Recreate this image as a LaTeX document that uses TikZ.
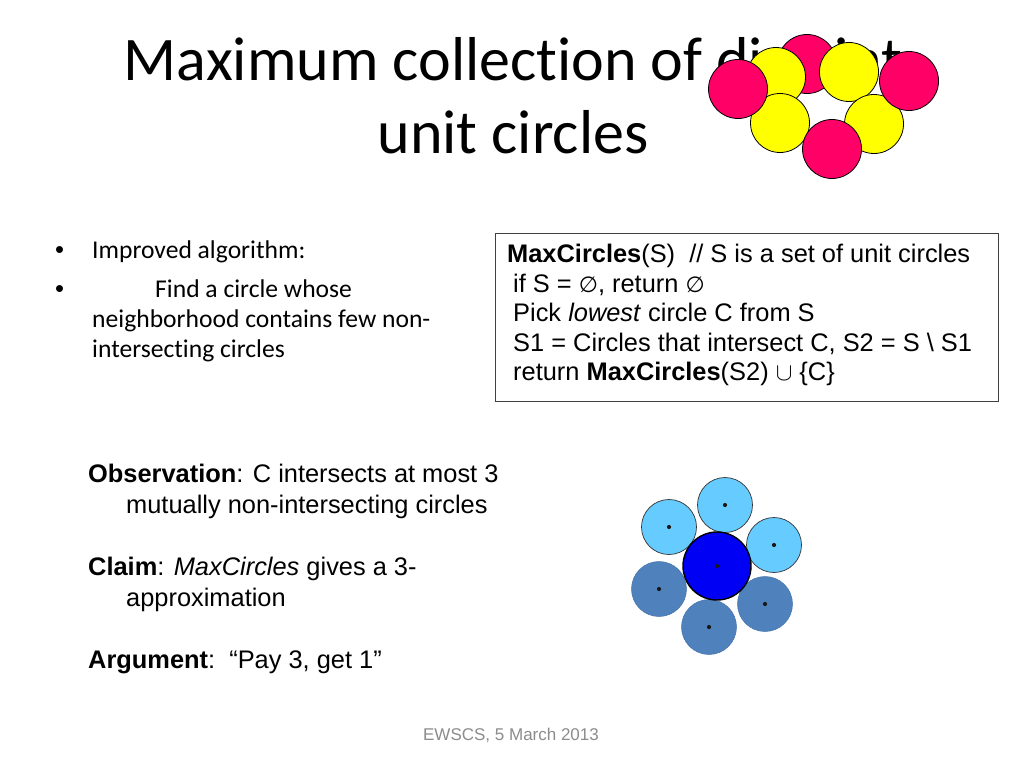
\documentclass[tikz,border=0pt]{standalone}
\usepackage{fontspec}
\setmainfont{Carlito}[Ligatures=NoCommon]
\newfontfamily\arial{Liberation Sans}
\newfontfamily\dejavu{DejaVu Sans}
\definecolor{pinkc}{RGB}{255,0,102}
\definecolor{yellowc}{RGB}{255,255,0}
\definecolor{lightbluec}{RGB}{102,204,255}
\definecolor{steelbluec}{RGB}{79,129,189}
\definecolor{centerbluec}{RGB}{0,0,245}
\definecolor{footgray}{RGB}{140,140,140}
\newcommand{\emptyglyph}{{\dejavu\fontsize{22}{30}\selectfont ∅}}
\tikzset{
  txt/.style={inner sep=0pt, anchor=base west},
  titletxt/.style={inner sep=0pt, anchor=base, font=\fontsize{62}{74}\selectfont},
  bodytxt/.style={txt, font=\fontsize{25.6}{31}\selectfont},
  bullettxt/.style={txt, font=\arial\fontsize{25.6}{31}\selectfont},
  arialtxt/.style={txt, font=\arial\fontsize{25.4}{30}\selectfont},
  disc/.style={circle, inner sep=0pt, minimum size=59pt, draw=black, line width=0.8pt},
  pinkdisc/.style={disc, fill=pinkc},
  yellowdisc/.style={disc, fill=yellowc},
  lbdisc/.style={circle, inner sep=0pt, minimum size=55pt, fill=lightbluec, draw=black!80, line width=0.7pt},
  sbdisc/.style={circle, inner sep=0pt, minimum size=55pt, fill=steelbluec, draw=steelbluec!90!black, line width=0.5pt},
  cbdisc/.style={circle, inner sep=0pt, minimum size=68pt, fill=centerbluec, draw=black, line width=1.4pt},
  dotc/.style={circle, inner sep=0pt, minimum size=4.2pt, fill=black!90}
}
\begin{document}
\begin{tikzpicture}[x=1pt,y=-1pt]
\fill[white] (0,0) rectangle (1024,768);
\useasboundingbox (0,0) rectangle (1024,768);

% title
\node[titletxt] (t1) at (513,80) {Maximum collection of disjoint};
\node[titletxt] (t2) at (513,153) {unit circles};

% top-right circles
\node[pinkdisc] (pt) at (807,64) {};
\node[yellowdisc] (yul) at (776,77) {};
\node[yellowdisc] (yur) at (849,72) {};
\node[yellowdisc] (yll) at (780,123) {};
\node[yellowdisc] (ylr) at (874,124) {};
\node[pinkdisc] (pl) at (738,89) {};
\node[pinkdisc] (pr) at (909,81) {};
\node[pinkdisc] (pb) at (832,149) {};

% left bullets
\node[bullettxt] (b1) at (55,258) {•};
\node[bodytxt] (l1) at (92,258) {Improved algorithm:};
\node[bullettxt] (b2) at (55,297) {•};
\node[bodytxt] (l2) at (155,297) {Find a circle whose};
\node[bodytxt] (l3) at (92,327) {neighborhood contains few non-};
\node[bodytxt] (l4) at (92,357) {intersecting circles};

% algorithm box
\draw[black!75, line width=0.9pt] (495,233) rectangle (998,401);
\node[arialtxt] (a1) at (507,262) {\textbf{MaxCircles}(S)\ \ // S is a set of unit circles};
\node[arialtxt] (a2) at (513,292) {if S = \emptyglyph, return \emptyglyph};
\node[arialtxt] (a3) at (513,321) {Pick \textit{lowest} circle C from S};
\node[arialtxt] (a4) at (513,351) {S1 = Circles that intersect C, S2 = S \textbackslash\ S1};
\node[arialtxt] (a5) at (513,380) {return \textbf{MaxCircles}(S2) $\cup$ \{C\}};

% observation text
\node[arialtxt] (o1) at (88,482) {\textbf{Observation}: C intersects at most 3};
\node[arialtxt] (o2) at (126,513) {mutually non-intersecting circles};
\node[arialtxt] (c1) at (88,575) {\textbf{Claim}: \textit{MaxCircles} gives a 3-};
\node[arialtxt] (c2) at (126,606) {approximation};
\node[arialtxt] (g1) at (88,668) {\textbf{Argument}:\ \ “Pay 3, get 1”};

% bottom-right circles
\node[lbdisc] (lt) at (725,505) {};
\node[lbdisc] (lul) at (669,527) {};
\node[lbdisc] (lr) at (774,545) {};
\node[sbdisc] (sl) at (659,589) {};
\node[sbdisc] (sb) at (709,627) {};
\node[sbdisc] (sr) at (765,604) {};
\node[cbdisc] (cc) at (717,566) {};
\foreach \n in {lt,lul,lr,sl,sb,sr,cc} \node[dotc] at (\n.center) {};

% footer
\node[inner sep=0pt, anchor=base, text=footgray, font=\arial\fontsize{17}{20}\selectfont] (ft) at (511,740) {EWSCS, 5 March 2013};
\end{tikzpicture}
\end{document}
